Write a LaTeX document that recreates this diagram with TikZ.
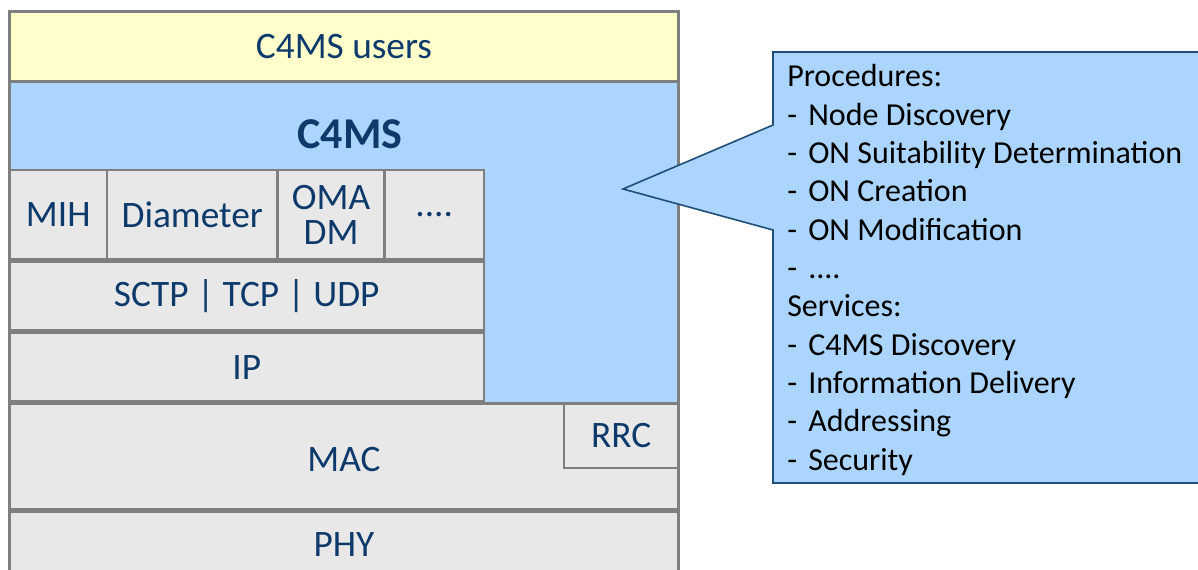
\documentclass[tikz,border=0pt]{standalone}
\usepackage{fontspec}
\setmainfont{Carlito}
\definecolor{navy}{HTML}{0E3A6B}
\definecolor{usersfill}{HTML}{FFFFCC}
\definecolor{c4msfill}{HTML}{ABD5FC}
\definecolor{layerfill}{HTML}{E8E8E8}
\definecolor{layerline}{HTML}{7F7F7F}
\definecolor{calloutline}{HTML}{1F4E79}
\tikzset{
  px/.style 2 args={minimum width=#1*0.75pt, minimum height=#2*0.75pt},
  layer/.style={draw=layerline, line width=2pt, fill=layerfill, text=navy,
    inner sep=0pt, font=\fontsize{28}{26}\selectfont, align=center},
  label28/.style={text=navy, inner sep=0pt, font=\fontsize{28}{30}\selectfont},
  calloutline/.style={text=black, inner sep=0pt, anchor=base west,
    font=\fontsize{24}{26}\selectfont},
}
\newcommand{\dashitem}[1]{\makebox[15.75pt][l]{-}#1}
\begin{document}
\begin{tikzpicture}[x=0.75pt, y=-0.75pt]
  \useasboundingbox (0,0) rectangle (1198,570);
  \clip (0,0) rectangle (1198,570);

  % protocol stack
  \node (users) [layer, fill=usersfill, px={669}{70}] at (344,46.5) {C4MS users};
  \node (c4ms)  [layer, fill=c4msfill, px={669}{322}] at (344,242.5) {};
  \node (c4mslabel) [label28, font=\fontsize{33}{35}\selectfont\bfseries] at (350,134) {C4MS};

  \node (mih)  [layer, px={97.5}{89.5}]  at (58.25,214.75)  {MIH};
  \node (diam) [layer, px={170.5}{89.5}] at (192.25,214.75) {Diameter};
  \node (oma)  [layer, px={107}{89.5}]   at (331,214.75)    {OMA\\DM};
  \node (more) [layer, px={99.5}{89.5}]  at (434.25,214.75) {....};

  \node (transport) [layer, px={474.5}{68.5}] at (246.75,296.25) {SCTP | TCP | UDP};
  \node (ip)        [layer, px={474.5}{68.5}] at (246.75,367.25) {IP};

  \node (mac) [layer, px={669}{105.5}] at (344,456.75) {};
  \node (maclabel) [label28] at (344,460) {MAC};
  \node (rrc) [layer, px={114.5}{64}] at (621.25,436) {RRC};

  \node (phy) [layer, px={669}{90}] at (344,557) {};
  \node (phylabel) [label28] at (344,545) {PHY};

  % outer frame of the stack
  \draw[layerline, line width=2.25pt] (9.5,620) |- (678.5,11.5) -- (678.5,620);

  % callout with procedures and services
  \coordinate (tip) at (623,189);
  \filldraw[fill=c4msfill, draw=calloutline, line width=1.2pt]
    (773,125) -- (773,52) -- (1205,52) -- (1205,483) -- (773,483)
    -- (773,230) -- (tip) -- cycle;

  \foreach \t [count=\i] in {
      Procedures:,
      \dashitem{Node Discovery},
      \dashitem{ON Suitability Determination},
      \dashitem{ON Creation},
      \dashitem{ON Modification},
      \dashitem{....},
      Services:,
      \dashitem{C4MS Discovery},
      \dashitem{Information Delivery},
      \dashitem{Addressing},
      \dashitem{Security}}
    \node (item\i) [calloutline] at (787,{87+38.3*(\i-1)}) {\t};
\end{tikzpicture}
\end{document}
